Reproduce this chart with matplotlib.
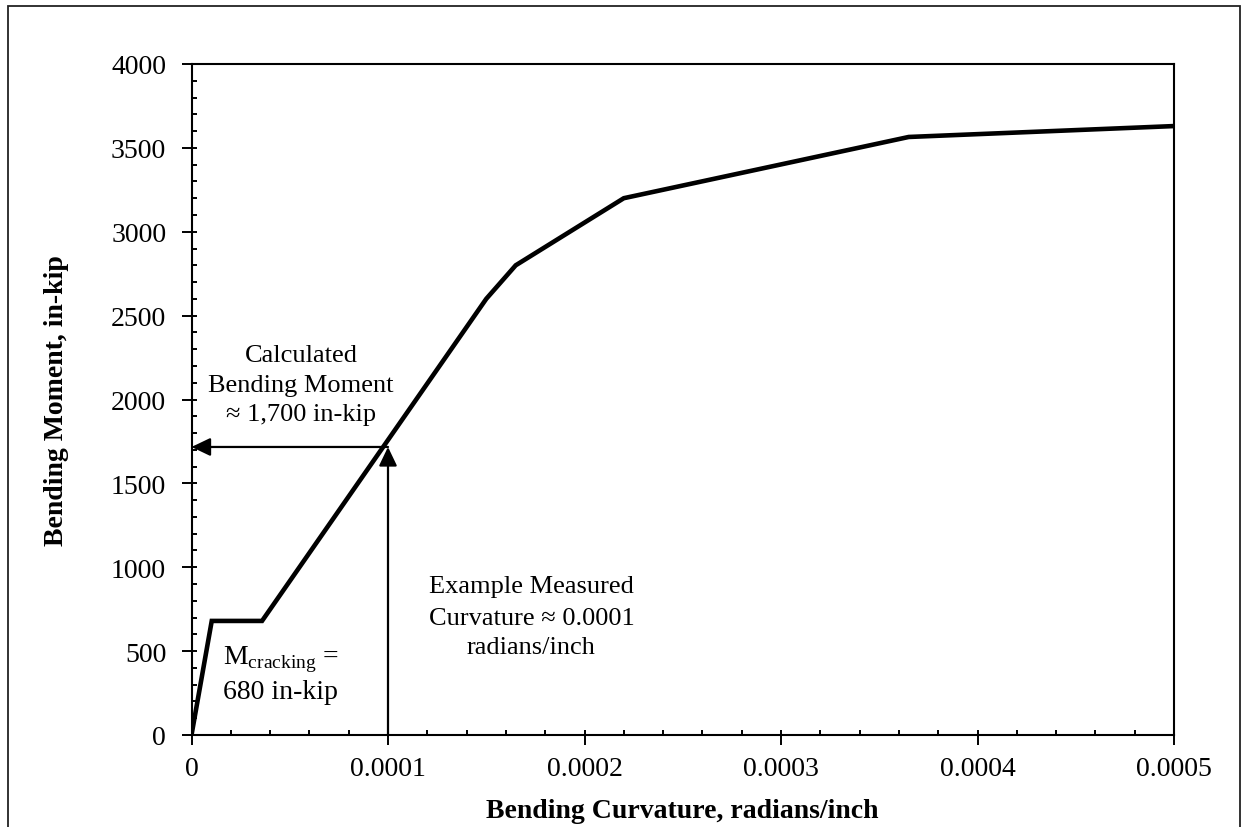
import matplotlib
matplotlib.use("Agg")
import matplotlib.pyplot as plt
from matplotlib.ticker import MultipleLocator
from matplotlib.patches import Rectangle

curvature = [0.0, 0.0000103, 0.0000359, 0.000150, 0.000165, 0.000220, 0.000365, 0.000500]
moment = [0, 680, 680, 2600, 2800, 3200, 3565, 3630]
x_ticks = [0, 0.0001, 0.0002, 0.0003, 0.0004, 0.0005]
x_tick_labels = ["0", "0.0001", "0.0002", "0.0003", "0.0004", "0.0005"]
y_ticks = [0, 500, 1000, 1500, 2000, 2500, 3000, 3500, 4000]
measured_curvature = 0.0001
calc_moment = 1717

calc_lines = ["Calculated", "Bending Moment", "≈ 1,700 in-kip"]
meas_lines = ["Example Measured", "Curvature ≈ 0.0001", "radians/inch"]

plt.rcParams['font.family'] = ['Liberation Serif', 'DejaVu Serif']
plt.rcParams['mathtext.fontset'] = 'custom'
plt.rcParams['mathtext.rm'] = 'Liberation Serif'

W, H = 1247, 828
fig = plt.figure(figsize=(W / 100, H / 100), dpi=100)
ax = fig.add_axes([191.5 / W, 1 - 736 / H, (1174 - 191.5) / W, (736 - 65) / H])

fig.patches.append(Rectangle((8 / W, -0.01), (1240 - 8) / W, 1 - 7 / H + 0.01, transform=fig.transFigure,
                             fill=False, edgecolor='#222222', linewidth=1.3))

ax.plot(curvature, moment, color='black', linewidth=3.3, solid_joinstyle='miter', zorder=3)

ax.set_xlim(0, 0.0005)
ax.set_ylim(0, 4000)
ax.set_xticks(x_ticks)
ax.set_xticklabels(x_tick_labels)
ax.set_yticks(y_ticks)
ax.xaxis.set_minor_locator(MultipleLocator(0.00002))
ax.yaxis.set_minor_locator(MultipleLocator(100))
ax.xaxis.remove_overlapping_locs = False
ax.yaxis.remove_overlapping_locs = False
ax.tick_params(which='major', direction='out', length=7.2, width=1.4, labelsize=20, color='black')
ax.tick_params(which='minor', direction='in', length=3.8, width=1.4)
ax.tick_params(axis='x', which='major', pad=8)
ax.tick_params(axis='y', which='major', pad=11)
for s in ax.spines.values():
    s.set_linewidth(1.5)

ax.set_xlabel("Bending Curvature, radians/inch", fontsize=20, fontweight='bold', labelpad=12)
ax.set_ylabel("Bending Moment, in-kip", fontsize=20, fontweight='bold', labelpad=30)

# arrows
aprops = dict(arrowstyle='-|>,head_length=1.15,head_width=0.55', color='black', lw=1.6,
              shrinkA=0, shrinkB=0)
ax.annotate("", xy=(0, calc_moment), xytext=(measured_curvature, calc_moment),
            arrowprops=aprops, zorder=4)
ax.annotate("", xy=(measured_curvature, calc_moment), xytext=(measured_curvature, 0),
            arrowprops=aprops, zorder=4)

# annotation text, one line at a time (baseline aligned)
calc_x = 0.0000557
calc_y = [2230, 2048, 1880]
for t, y in zip(calc_lines, calc_y):
    ax.text(calc_x, y, t, ha='center', va='baseline', fontsize=19)

meas_x = 0.000173
meas_y = [850, 660, 490]
for t, y in zip(meas_lines, meas_y):
    ax.text(meas_x, y, t, ha='center', va='baseline', fontsize=19)

ax.text(0.000016, 430, r"M$_{\mathregular{cracking}}$ =", ha='left', va='baseline', fontsize=20)
ax.text(0.000016, 222, "680 in-kip", ha='left', va='baseline', fontsize=20)

fig.savefig("out.png", dpi=100)
